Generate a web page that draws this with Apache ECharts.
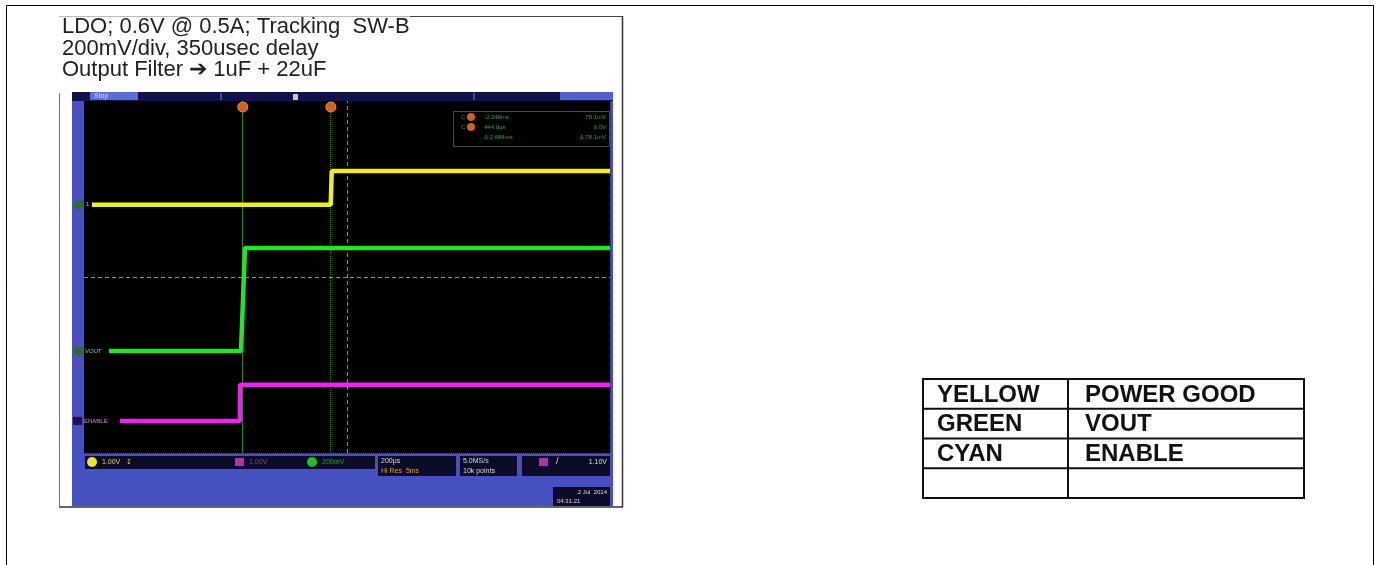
<!DOCTYPE html>
<html><head><meta charset="utf-8">
<script src="https://cdn.jsdelivr.net/npm/echarts@6/dist/echarts.min.js"></script>
<style>html,body{margin:0;padding:0;background:#fff}#c{width:1379px;height:565px}</style>
</head><body><div id="c"></div>
<script>
// ---- data (time in µs, 200 µs/div; vertical in screen divisions) ----
const titleLines = ['LDO; 0.6V @ 0.5A; Tracking  SW-B', '200mV/div, 350usec delay', 'Output Filter \u2794 1uF + 22uF'];
const powerGoodT = [-970, -62, -58, 1000];
const powerGoodV = [1.64, 1.64, 2.41, 2.41];
const voutT = [-905, -403, -388, 1000];
const voutV = [-1.68, -1.68, 0.66, 0.66];
const enableT = [-863, -407, -407, 1000];
const enableV = [-3.27, -3.27, -2.45, -2.45];
const cursorT = [-400, -65];
const tableRows = [['YELLOW', 'POWER GOOD'], ['GREEN', 'VOUT'], ['CYAN', 'ENABLE'], ['', '']];
const readout = [['-2.240ms', '78.1mV'], ['444.0\u00b5s', '0.0V'], ['\u0394 2.684ms', '\u0394 78.1mV']];

const zip = (a, b) => a.map((v, i) => [v, b[i]]);
const FONT = '"Liberation Sans", Arial, sans-serif';
const chart = echarts.init(document.getElementById('c'), null, {renderer: 'canvas'});
const GX = 84, GY = 101, GW = 526, GH = 352;

chart.setOption({
  animation: false,
  backgroundColor: '#fff',
  grid: {left: GX, top: GY, width: GW, height: GH, show: true, backgroundColor: '#000', borderWidth: 0, z: 1},
  xAxis: {type: 'value', min: -1000, max: 1000, interval: 200,
    axisLine: {show: false}, axisTick: {show: false}, axisLabel: {show: false},
    splitLine: {show: true, lineStyle: {color: '#2c2c2c', type: 'dotted', width: 1}}},
  yAxis: {type: 'value', min: -4, max: 4, interval: 1,
    axisLine: {show: false}, axisTick: {show: false}, axisLabel: {show: false},
    splitLine: {show: true, lineStyle: {color: '#2c2c2c', type: 'dotted', width: 1}}},
  series: [
    {type: 'line', name: 'POWER GOOD', data: zip(powerGoodT, powerGoodV), symbol: 'none', z: 5,
      lineStyle: {color: '#eeee22', width: 4.5},
      markLine: {silent: true, symbol: 'none', label: {show: false},
        lineStyle: {color: '#8a8a8a', type: [4, 3], width: 1},
        data: [{xAxis: 0}, {yAxis: 0}]}},
    {type: 'line', name: 'VOUT', data: zip(voutT, voutV), symbol: 'none', z: 6,
      lineStyle: {color: '#22e622', width: 4.5},
      markLine: {silent: true, symbol: 'none', label: {show: false},
        data: [{xAxis: cursorT[0], lineStyle: {color: '#1f8a1f', type: 'solid', width: 1}},
               {xAxis: cursorT[1], lineStyle: {color: '#1f8a1f', type: 'dotted', width: 1}}]}},
    {type: 'line', name: 'ENABLE', data: zip(enableT, enableV), symbol: 'none', z: 5,
      lineStyle: {color: '#ee22ee', width: 4.5}}
  ]
});

const px = (t, v) => chart.convertToPixel({gridIndex: 0}, [t, v]);
const g = [];
// page border
g.push({type: 'rect', shape: {x: 6.5, y: 5.5, width: 1367, height: 600}, style: {fill: null, stroke: '#000', lineWidth: 1}, z: 0});
// screenshot edges
g.push({type: 'line', shape: {x1: 59, y1: 16.5, x2: 410, y2: 16.5}, style: {stroke: '#bbb', lineWidth: 1}, z: 2});
g.push({type: 'line', shape: {x1: 410, y1: 16.5, x2: 622, y2: 16.5}, style: {stroke: '#444', lineWidth: 1}, z: 2});
g.push({type: 'line', shape: {x1: 622.5, y1: 16, x2: 622.5, y2: 507}, style: {stroke: '#333', lineWidth: 1.5}, z: 2});
g.push({type: 'line', shape: {x1: 59, y1: 507, x2: 623, y2: 507}, style: {stroke: '#333', lineWidth: 1.5}, z: 2});
g.push({type: 'line', shape: {x1: 59.5, y1: 93, x2: 59.5, y2: 507}, style: {stroke: '#777', lineWidth: 1}, z: 2});
// titles
titleLines.forEach((t, i) => g.push({type: 'text', x: 62, y: 27 + i * 21.5, z: 3,
  style: {text: t, font: '22px ' + FONT, fill: '#222', textVerticalAlign: 'middle'}}));
// scope blue frame (behind grid)
g.push({type: 'rect', shape: {x: 72, y: 92, width: 541, height: 414}, style: {fill: '#4650c0'}, z: -1});
// top bar
g.push({type: 'rect', shape: {x: 72, y: 92, width: 541, height: 9}, style: {fill: '#12124a'}, z: 2});
g.push({type: 'rect', shape: {x: 90, y: 92, width: 48, height: 8}, style: {fill: '#5c6cd8'}, z: 3});
g.push({type: 'text', x: 94, y: 96, z: 4, style: {text: 'Stop', font: '7px ' + FONT, fill: '#ddd', textVerticalAlign: 'middle'}});
g.push({type: 'rect', shape: {x: 560, y: 92, width: 53, height: 8}, style: {fill: '#5060d0'}, z: 3});
[221, 474].forEach(x => g.push({type: 'line', shape: {x1: x, y1: 93, x2: x, y2: 100}, style: {stroke: '#8888aa', lineWidth: 1}, z: 3}));
g.push({type: 'rect', shape: {x: 293, y: 94, width: 5, height: 6}, style: {fill: '#c8c8c8'}, z: 4});
// cursor markers at top
cursorT.forEach(t => {
  const p = px(t, 0);
  g.push({type: 'circle', shape: {cx: p[0] + 1, cy: 107, r: 5}, style: {fill: '#d2601e', stroke: '#f09040', lineWidth: 1}, z: 6});
});
// readout box
g.push({type: 'rect', shape: {x: 453.5, y: 111.5, width: 156, height: 35}, style: {fill: '#000', stroke: '#4a4a4a', lineWidth: 1}, z: 6});
[117, 127].forEach(y => g.push({type: 'circle', shape: {cx: 471, cy: y, r: 4}, style: {fill: '#d2601e'}, z: 7}));
[117, 127].forEach(y => g.push({type: 'text', x: 461, y: y, z: 7, style: {text: 'C', font: '6px ' + FONT, fill: '#1fa01f', textVerticalAlign: 'middle'}}));
readout.forEach((r, i) => {
  g.push({type: 'text', x: 484, y: 117 + i * 10, z: 7, style: {text: r[0], font: '6px ' + FONT, fill: '#22b022', textVerticalAlign: 'middle'}});
  g.push({type: 'text', x: 606, y: 117 + i * 10, z: 7, style: {text: r[1], font: '6px ' + FONT, fill: '#22b022', textVerticalAlign: 'middle', textAlign: 'right'}});
});
// left ground markers
const pg0 = px(powerGoodT[0], powerGoodV[0]);
g.push({type: 'rect', shape: {x: 74, y: pg0[1] - 4, width: 9, height: 8, r: 2}, style: {fill: '#2f6a2f'}, z: 6});
g.push({type: 'text', x: 86, y: pg0[1], z: 6, style: {text: '1', font: '6px ' + FONT, fill: '#ccc', textVerticalAlign: 'middle'}});
const v0 = px(voutT[0], voutV[0]);
g.push({type: 'rect', shape: {x: 74, y: v0[1] - 4, width: 9, height: 8, r: 2}, style: {fill: '#2f6a2f'}, z: 6});
g.push({type: 'text', x: 85, y: v0[1], z: 6, style: {text: 'VOUT', font: '6px ' + FONT, fill: '#8ccc8c', textVerticalAlign: 'middle'}});
const e0 = px(enableT[0], enableV[0]);
g.push({type: 'rect', shape: {x: 73, y: e0[1] - 4, width: 9, height: 8}, style: {fill: '#2a0a50'}, z: 6});
g.push({type: 'text', x: 84, y: e0[1], z: 6, style: {text: 'ENABLE', font: '6px ' + FONT, fill: '#cc88cc', textVerticalAlign: 'middle'}});
// bottom status bar
g.push({type: 'rect', shape: {x: 85, y: 456, width: 290, height: 13}, style: {fill: '#0c0c28'}, z: 3});
g.push({type: 'circle', shape: {cx: 92, cy: 462, r: 5}, style: {fill: '#e8e830'}, z: 4});
g.push({type: 'text', x: 102, y: 462, z: 4, style: {text: '1.00V   \u21a7', font: '7px ' + FONT, fill: '#d8d830', textVerticalAlign: 'middle'}});
g.push({type: 'rect', shape: {x: 235, y: 458, width: 9, height: 8}, style: {fill: '#b030b0'}, z: 4});
g.push({type: 'text', x: 249, y: 462, z: 4, style: {text: '1.00V', font: '7px ' + FONT, fill: '#a030a0', textVerticalAlign: 'middle'}});
g.push({type: 'circle', shape: {cx: 312, cy: 462, r: 5}, style: {fill: '#20c020'}, z: 4});
g.push({type: 'text', x: 322, y: 462, z: 4, style: {text: '200mV', font: '7px ' + FONT, fill: '#20a020', textVerticalAlign: 'middle'}});
g.push({type: 'rect', shape: {x: 378, y: 456, width: 78, height: 20}, style: {fill: '#0c0c28'}, z: 3});
g.push({type: 'text', x: 381, y: 461, z: 4, style: {text: '200\u00b5s', font: '7px ' + FONT, fill: '#ddd', textVerticalAlign: 'middle'}});
g.push({type: 'text', x: 381, y: 471, z: 4, style: {text: 'Hi Res  5ms', font: '7px ' + FONT, fill: '#e0a020', textVerticalAlign: 'middle'}});
g.push({type: 'rect', shape: {x: 460, y: 456, width: 57, height: 20}, style: {fill: '#0c0c28'}, z: 3});
g.push({type: 'text', x: 463, y: 461, z: 4, style: {text: '5.0MS/s', font: '7px ' + FONT, fill: '#ddd', textVerticalAlign: 'middle'}});
g.push({type: 'text', x: 463, y: 471, z: 4, style: {text: '10k points', font: '7px ' + FONT, fill: '#ddd', textVerticalAlign: 'middle'}});
g.push({type: 'rect', shape: {x: 522, y: 456, width: 88, height: 20}, style: {fill: '#0c0c28'}, z: 3});
g.push({type: 'rect', shape: {x: 539, y: 458, width: 9, height: 8}, style: {fill: '#b030b0'}, z: 4});
g.push({type: 'text', x: 556, y: 462, z: 4, style: {text: '/', font: '9px ' + FONT, fill: '#ddd', textVerticalAlign: 'middle'}});
g.push({type: 'text', x: 607, y: 462, z: 4, style: {text: '1.10V', font: '7px ' + FONT, fill: '#ddd', textVerticalAlign: 'middle', textAlign: 'right'}});
g.push({type: 'rect', shape: {x: 553, y: 487, width: 57, height: 19}, style: {fill: '#0c0c28'}, z: 3});
g.push({type: 'text', x: 607, y: 492, z: 4, style: {text: '2 Jul  2014', font: '6px ' + FONT, fill: '#ddd', textVerticalAlign: 'middle', textAlign: 'right'}});
g.push({type: 'text', x: 557, y: 501, z: 4, style: {text: '04:31:21', font: '6px ' + FONT, fill: '#ddd', textVerticalAlign: 'middle'}});
// legend table
const TX = 923, TY = 379, TW = 381, TH = 119, COLX = 1068;
const rowH = TH / tableRows.length;
g.push({type: 'rect', shape: {x: TX, y: TY, width: TW, height: TH}, style: {fill: '#fff', stroke: '#111', lineWidth: 2}, z: 3});
for (let i = 1; i < tableRows.length; i++) {
  g.push({type: 'line', shape: {x1: TX, y1: TY + i * rowH, x2: TX + TW, y2: TY + i * rowH}, style: {stroke: '#111', lineWidth: 2}, z: 4});
}
g.push({type: 'line', shape: {x1: COLX, y1: TY, x2: COLX, y2: TY + TH}, style: {stroke: '#111', lineWidth: 2}, z: 4});
tableRows.forEach((r, i) => {
  const cy = TY + rowH * (i + 0.5) + 1;
  g.push({type: 'text', x: 937, y: cy, z: 5, style: {text: r[0], font: 'bold 24px ' + FONT, fill: '#111', textVerticalAlign: 'middle'}});
  g.push({type: 'text', x: 1085, y: cy, z: 5, style: {text: r[1], font: 'bold 24px ' + FONT, fill: '#111', textVerticalAlign: 'middle'}});
});
chart.setOption({graphic: g});
</script></body></html>
